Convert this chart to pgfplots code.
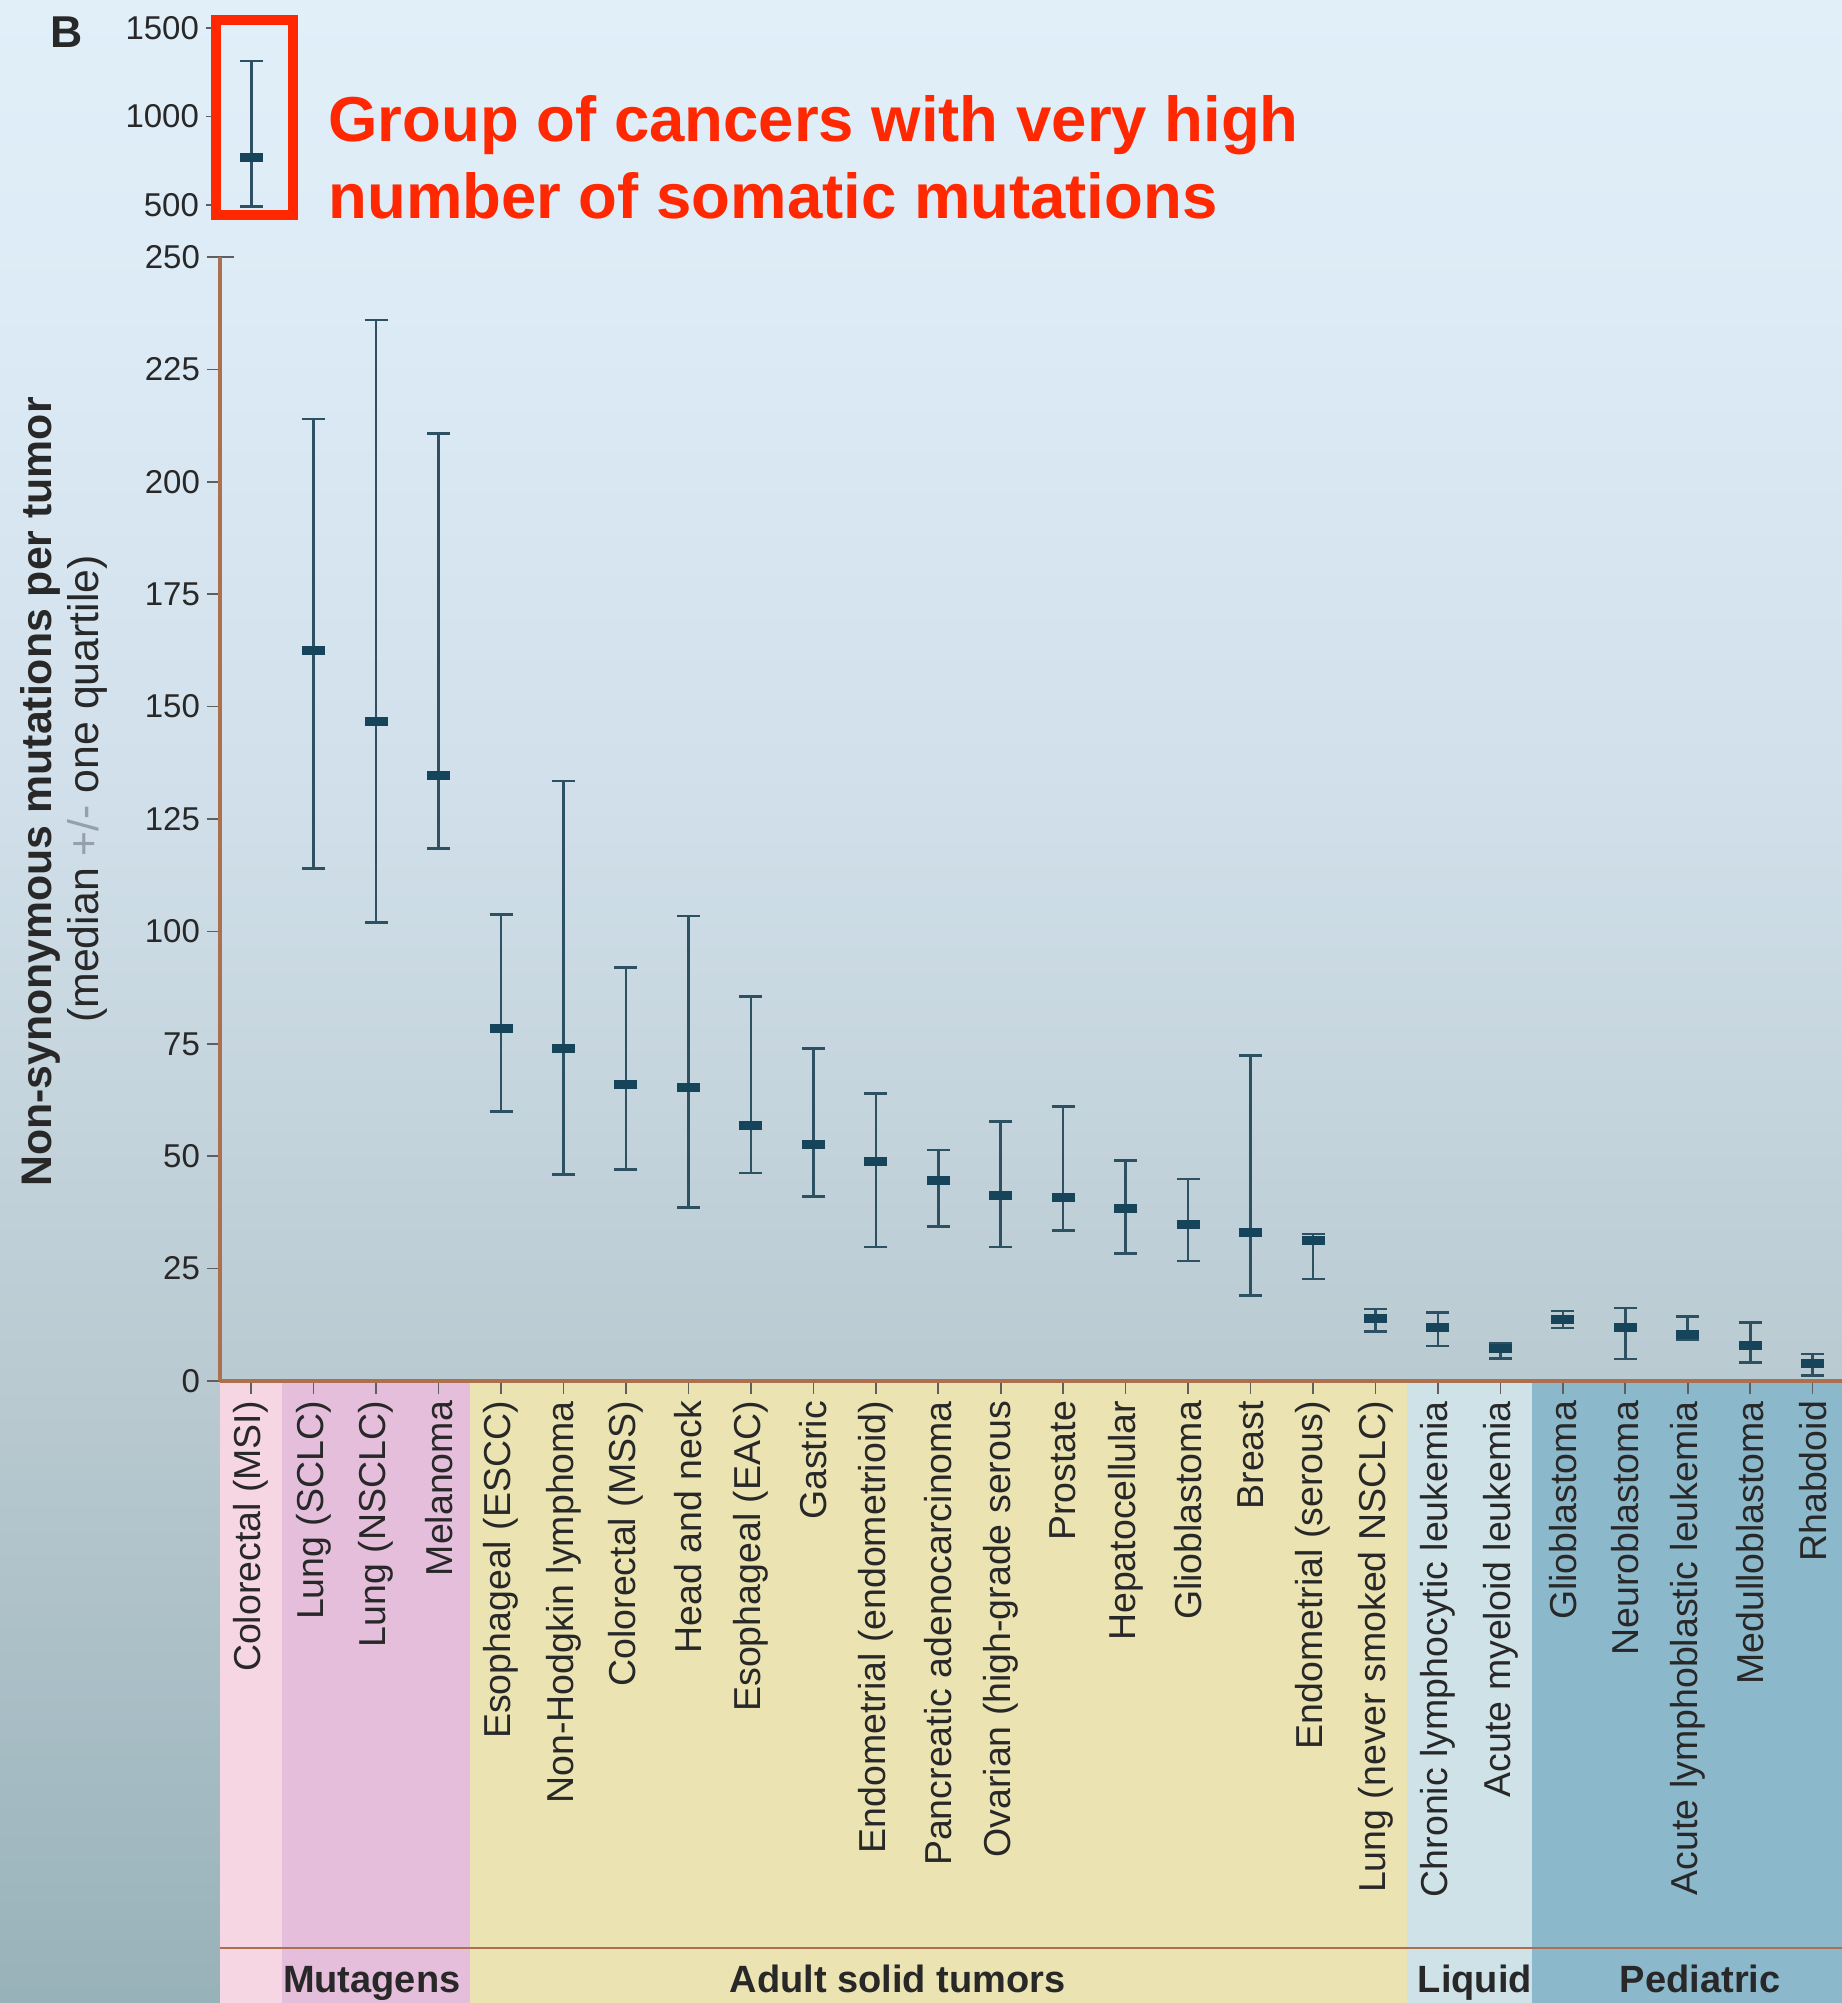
\documentclass[border=0pt]{standalone}
\usepackage{fontspec}
\setmainfont{Liberation Sans}
\usepackage{pgfplots}
\usepackage{pgfplotstable}
\pgfplotsset{compat=1.18}

\definecolor{axisbrown}{RGB}{172,112,78}
\definecolor{tickgray}{RGB}{95,95,95}
\definecolor{txt}{RGB}{40,40,40}
\definecolor{whisk}{RGB}{45,80,98}
\definecolor{medcol}{RGB}{22,68,90}
\definecolor{redc}{RGB}{255,40,0}
\definecolor{plusgray}{RGB}{150,160,170}
\definecolor{bMSI}{RGB}{247,214,228}
\definecolor{bMut}{RGB}{229,190,220}
\definecolor{bAdult}{RGB}{235,228,178}
\definecolor{bLiq}{RGB}{206,226,231}
\definecolor{bPed}{RGB}{140,184,204}

\pgfdeclareverticalshading{bgshade}{100bp}{rgb(0bp)=(0.596,0.698,0.729); rgb(25bp)=(0.596,0.698,0.729); rgb(40.5bp)=(0.729,0.792,0.820); rgb(55bp)=(0.816,0.875,0.914); rgb(67.5bp)=(0.867,0.922,0.965); rgb(75bp)=(0.882,0.937,0.976); rgb(100bp)=(0.882,0.937,0.976)}

\pgfplotstableread{
x lo med hi
1 114 162.5 214
2 102 146.6 236
3 118.5 134.7 210.8
4 60 78.4 103.7
5 46 73.9 133.5
6 47 66 92
7 38.6 65.3 103.4
8 46.3 56.8 85.5
9 41 52.6 74
10 29.8 48.9 64
11 34.4 44.6 51.4
12 29.8 41.2 57.7
13 33.5 40.9 61.1
14 28.4 38.4 49.1
15 26.7 34.9 44.9
16 19 33 72.4
17 22.7 31.3 32.7
18 11 14 16
19 7.8 12 15.2
20 5 7.2 8.3
21 11.8 13.6 15.6
22 4.9 11.8 16.2
23 9.3 10.3 14.3
24 4.1 7.8 13
25 1.2 4 6
}\maindata

\pgfplotstableread{
x lo med hi
0 490 766 1314
}\insetdata

\pgfplotsset{
  ebstyle/.style={
    draw=none, mark=-, mark size=5.75pt,
    mark options={draw=medcol, line width=4.5pt},
    error bars/.cd, y dir=both, y explicit,
    error mark=|,
    error bar style={draw=whisk, line width=1.3pt},
    error mark options={draw=whisk, line width=1.3pt, mark size=5.75pt},
  }
}

\begin{document}
\begin{tikzpicture}
\useasboundingbox (0,0) rectangle (921pt,-1001.5pt);
\shade[shading=bgshade] (0,0) rectangle (921pt,-1001.5pt);

% main axis
\begin{axis}[
  at={(110pt,-690.5pt)}, anchor=south west,
  scale only axis, width=811pt, height=562pt,
  xmin=-0.5, xmax=25.47, ymin=0, ymax=250,
  axis x line*=bottom, axis y line*=left,
  axis line style={draw=axisbrown, line width=1.75pt, -},
  axis on top, clip=false,
  tick align=outside, major tick length=6.5pt,
  tick style={draw=tickgray, line width=0.8pt},
  xtick={0,...,25},
  xticklabels={Colorectal (MSI),Lung (SCLC),Lung (NSCLC),Melanoma,Esophageal (ESCC),Non-Hodgkin lymphoma,Colorectal (MSS),Head and neck,Esophageal (EAC),Gastric,Endometrial (endometrioid),Pancreatic adenocarcinoma,Ovarian (high-grade serous,Prostate,Hepatocellular,Glioblastoma,Breast,Endometrial (serous),Lung (never smoked NSCLC),Chronic lymphocytic leukemia,Acute myeloid leukemia,Glioblastoma,Neuroblastoma,Acute lymphoblastic leukemia,Medulloblastoma,Rhabdoid},
  xticklabel style={rotate=90, anchor=east, font=\fontsize{18.75}{20}\selectfont, text=txt},
  ytick={0,25,...,250},
  yticklabel style={font=\fontsize{16.5}{18}\selectfont, text=txt},
  /pgf/number format/assume math mode=true,
]
% category bands
\fill[bMSI] (axis cs:-0.5,0) rectangle (axis cs:0.5,-140);
\fill[bMut] (axis cs:0.5,0) rectangle (axis cs:3.5,-140);
\fill[bAdult] (axis cs:3.5,0) rectangle (axis cs:18.5,-140);
\fill[bLiq] (axis cs:18.5,0) rectangle (axis cs:20.5,-140);
\fill[bPed] (axis cs:20.5,0) rectangle (axis cs:25.47,-140);
\draw[axisbrown, line width=1pt] (axis cs:-0.5,-126.1) -- (axis cs:25.47,-126.1);
\node[anchor=base, font=\bfseries\fontsize{19}{21}\selectfont, text=txt] at (axis cs:1.93,-136.1) {Mutagens};
\node[anchor=base, font=\bfseries\fontsize{19}{21}\selectfont, text=txt] at (axis cs:10.35,-136.1) {Adult solid tumors};
\node[anchor=base, font=\bfseries\fontsize{19}{21}\selectfont, text=txt] at (axis cs:19.59,-136.1) {Liquid};
\node[anchor=base, font=\bfseries\fontsize{19}{21}\selectfont, text=txt] at (axis cs:23.2,-136.1) {Pediatric};
\draw[tickgray, line width=1.2pt] ([xshift=-6.75pt]axis cs:-0.5,250) -- ([xshift=6.75pt]axis cs:-0.5,250);
\addplot[ebstyle] table[x=x, y=med, y error plus expr=\thisrow{hi}-\thisrow{med}, y error minus expr=\thisrow{med}-\thisrow{lo}] \maindata;
\end{axis}

% inset axis
\begin{axis}[
  at={(110pt,-102.5pt)}, anchor=south west,
  scale only axis, width=811pt, height=88.5pt,
  xmin=-0.5, xmax=25.47, ymin=500, ymax=1500,
  hide x axis, axis y line*=left,
  y axis line style={draw=none},
  clip=false,
  tick align=outside, major tick length=7pt,
  tick style={draw=tickgray, line width=0.8pt},
  ytick={500,1000,1500},
  yticklabel style={font=\fontsize{16.5}{18}\selectfont, text=txt},
  /pgf/number format/assume math mode=true,
  /pgf/number format/set thousands separator={},
]
\addplot[ebstyle] table[x=x, y=med, y error plus expr=\thisrow{hi}-\thisrow{med}, y error minus expr=\thisrow{med}-\thisrow{lo}] \insetdata;
\end{axis}

% red box and annotation
\draw[redc, line width=5pt] (108pt,-10pt) rectangle (146.5pt,-107.5pt);
\node[anchor=base west, inner sep=0pt, font=\bfseries\fontsize{31.75}{34}\selectfont, text=redc] at (164pt,-70.5pt) {Group of cancers with very high};
\node[anchor=base west, inner sep=0pt, font=\bfseries\fontsize{31.75}{34}\selectfont, text=redc] at (164pt,-109pt) {number of somatic mutations};

% panel letter
\node[anchor=base west, inner sep=0pt, font=\bfseries\fontsize{22.3}{24}\selectfont, text=txt] at (25pt,-23.5pt) {B};

% y label
\node[rotate=90, anchor=base, inner sep=0pt, font=\bfseries\fontsize{21.4}{24}\selectfont, text=txt] at (25.5pt,-396pt) {Non-synonymous mutations per tumor};
\node[rotate=90, anchor=base, inner sep=0pt, font=\fontsize{21.4}{24}\selectfont, text=txt] at (49pt,-394.5pt) {(median {\color{plusgray}+/-} one quartile)};
\end{tikzpicture}
\end{document}
